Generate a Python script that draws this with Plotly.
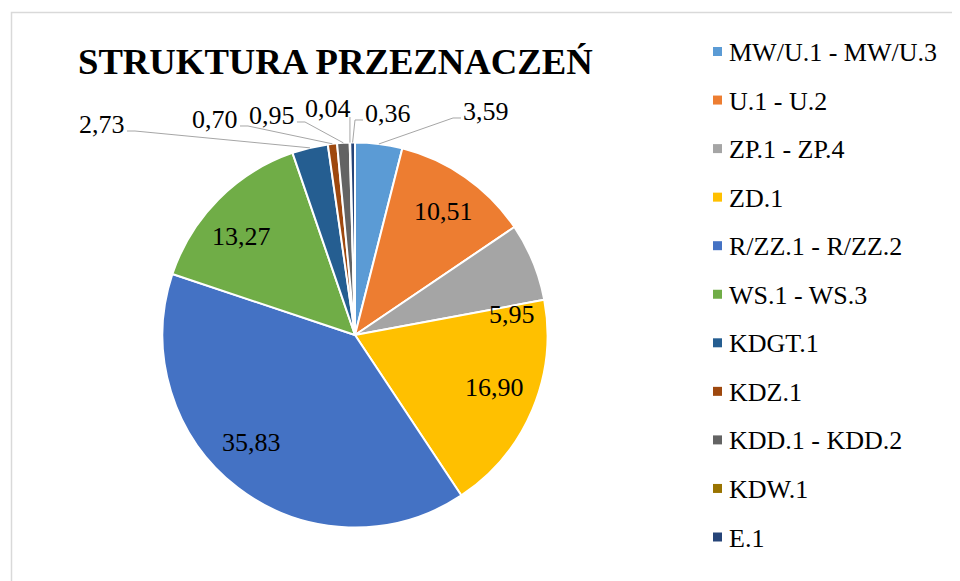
import math
import plotly.graph_objects as go

# ---- data ----
categories = ["MW/U.1 - MW/U.3", "U.1 - U.2", "ZP.1 - ZP.4", "ZD.1", "R/ZZ.1 - R/ZZ.2",
              "WS.1 - WS.3", "KDGT.1", "KDZ.1", "KDD.1 - KDD.2", "KDW.1", "E.1"]
values = [3.59, 10.51, 5.95, 16.90, 35.83, 13.27, 2.73, 0.70, 0.95, 0.04, 0.36]
colors = ["#5B9BD5", "#ED7D31", "#A5A5A5", "#FFC000", "#4472C4", "#70AD47",
          "#255E91", "#9E480E", "#636363", "#997300", "#264478"]
title_text = "STRUKTURA PRZEZNACZEŃ"

# ---- layout (pixels in the 960x581 window) ----
OFF = 8  # default body margin of the html page
W, H = 960 - OFF, 581 - OFF
CX, CY, R = 355, 335, 192.5
FONT = "Liberation Serif"
label_pos = [(486, 111), (443, 212), (512, 314), (495, 387), (252, 442), (241, 237),
             (102, 124), (215, 119), (272, 115), (328, 108), (388, 113)]
outside = [True, False, False, False, False, False, True, True, True, True, True]
LEG_X, LEG_Y0, LEG_DY = 717.5, 51.5, 48.55


def px(x):
    return (x - OFF) / W


def py(y):
    return 1 - (y - OFF) / H


fig = go.Figure(go.Pie(
    labels=categories, values=values, sort=False, direction="clockwise", rotation=0,
    marker=dict(colors=colors, line=dict(color="white", width=2)),
    textinfo="none", hoverinfo="label+value", showlegend=False,
    domain=dict(x=[px(CX - R), px(CX + R)], y=[py(CY + R), py(CY - R)]),
))

annotations = []
shapes = []

# border
shapes.append(dict(type="rect", xref="paper", yref="paper",
                   x0=px(11.5), x1=px(990), y0=py(610), y1=py(12.5),
                   line=dict(color="#D9D9D9", width=1.5), fillcolor="rgba(0,0,0,0)",
                   layer="below"))

# title
annotations.append(dict(text="<b>" + title_text + "</b>", xref="paper", yref="paper",
                        x=px(76), y=py(61), xanchor="left", yanchor="middle",
                        showarrow=False, font=dict(family=FONT, size=36.7, color="black")))

# data labels and leader lines
total = sum(values)
cum = 0.0
for i, v in enumerate(values):
    mid = (cum + v / 2) / total * 2 * math.pi
    cum += v
    lx, ly = label_pos[i]
    txt = f"{v:.2f}".replace(".", ",")
    annotations.append(dict(text=txt, xref="paper", yref="paper", x=px(lx), y=py(ly),
                            xanchor="center", yanchor="middle", showarrow=False,
                            font=dict(family=FONT, size=26, color="black")))
    if outside[i]:
        ex = CX + R * math.sin(mid)
        ey = CY - R * math.cos(mid)
        if abs(ex - lx) < 30:
            pts = [(ex, ly + 9), (ex, ey)]
        elif ex > lx:
            pts = [(lx + 25, ly + 7), (lx + 33, ly + 7), (ex, ey)]
        else:
            pts = [(lx - 25, ly + 7), (lx - 33, ly + 7), (ex, ey)]
        path = "M " + " L ".join(f"{px(a):.5f},{py(b):.5f}" for a, b in pts)
        shapes.append(dict(type="path", xref="paper", yref="paper", path=path,
                           line=dict(color="#A6A6A6", width=1)))

# legend
for i, (name, col) in enumerate(zip(categories, colors)):
    yc = LEG_Y0 + i * LEG_DY
    shapes.append(dict(type="rect", xref="paper", yref="paper",
                       x0=px(LEG_X - 4.5), x1=px(LEG_X + 4.5),
                       y0=py(yc + 4.5), y1=py(yc - 4.5),
                       fillcolor=col, line=dict(width=0)))
    annotations.append(dict(text=name, xref="paper", yref="paper", x=px(727), y=py(yc + 1),
                            xanchor="left", yanchor="middle", showarrow=False,
                            font=dict(family=FONT, size=26, color="#000000")))

fig.update_layout(width=W, height=H, margin=dict(l=0, r=0, t=0, b=0),
                  paper_bgcolor="white", plot_bgcolor="white",
                  annotations=annotations, shapes=shapes)

fig.write_html("out.html")
